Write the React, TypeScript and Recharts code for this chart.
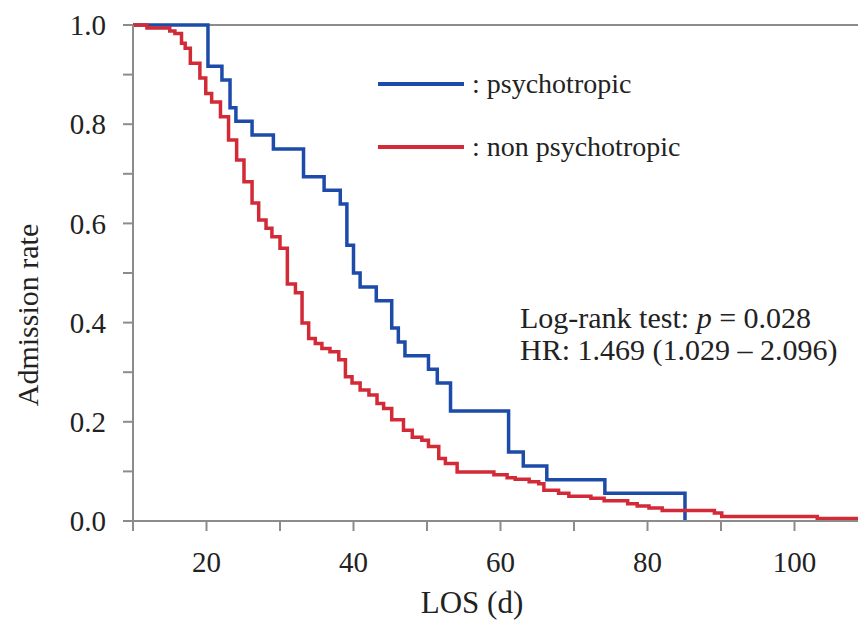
import { LineChart, Line, XAxis, YAxis, ReferenceLine, Label } from 'recharts'

// Kaplan-Meier style curves (day, admission rate)
const psychoDays = [10, 20.2, 22.1, 23.2, 24.0, 26.2, 29.1, 33.2, 36.0, 38.2, 39.1, 40.0, 40.9, 43.1, 45.2, 46.1, 47.0, 50.2, 51.4, 53.2, 61.1, 63.1, 66.3, 74.2, 85.1]
const psychoRate = [1.0, 0.917, 0.889, 0.833, 0.806, 0.778, 0.75, 0.694, 0.667, 0.639, 0.556, 0.5, 0.472, 0.444, 0.389, 0.361, 0.333, 0.306, 0.278, 0.222, 0.139, 0.111, 0.083, 0.056, 0.0]

const nonPsychoDays = [10, 11.9, 15.0, 15.7, 16.6, 17.1, 17.8, 19.1, 19.9, 20.7, 21.9, 23.0, 24.1, 25.1, 26.2, 27.1, 28.1, 28.9, 30.0, 31.0, 32.1, 33.0, 33.9, 34.8, 35.7, 36.8, 38.0, 38.9, 39.8, 40.9, 42.1, 43.2, 44.1, 45.2, 46.8, 48.0, 49.3, 50.2, 51.6, 52.5, 54.1, 59.1, 60.9, 62.0, 63.9, 65.2, 65.9, 67.9, 69.3, 72.3, 74.1, 77.3, 78.6, 80.2, 82.0, 89.1, 90.1, 103.1, 110]
const nonPsychoRate = [1.0, 0.994, 0.988, 0.983, 0.963, 0.953, 0.923, 0.893, 0.862, 0.845, 0.815, 0.768, 0.728, 0.684, 0.641, 0.607, 0.59, 0.573, 0.55, 0.478, 0.46, 0.399, 0.368, 0.358, 0.348, 0.341, 0.325, 0.291, 0.278, 0.264, 0.254, 0.237, 0.227, 0.204, 0.183, 0.169, 0.163, 0.15, 0.126, 0.116, 0.099, 0.093, 0.087, 0.084, 0.079, 0.075, 0.062, 0.056, 0.05, 0.046, 0.041, 0.035, 0.03, 0.026, 0.021, 0.016, 0.009, 0.005, 0.005]

const xTicks = [10, 20, 30, 40, 50, 60, 70, 80, 90, 100, 110]
const yTicks = [0, 0.1, 0.2, 0.3, 0.4, 0.5, 0.6, 0.7, 0.8, 0.9, 1.0]

const BLUE = '#1d4ba9'
const RED = '#d22a37'
const AXIS = '#8c8c8c'
const SERIF = "'Liberation Serif', 'Times New Roman', serif"

const psychoData = psychoDays.map((d, i) => ({ day: d, rate: psychoRate[i] }))
const nonPsychoData = nonPsychoDays.map((d, i) => ({ day: d, rate: nonPsychoRate[i] }))

const legendItems = [
  { name: 'psychotropic', color: BLUE },
  { name: 'non psychotropic', color: RED },
]

export default function App() {
  return (
    <div style={{ position: 'absolute', left: 0, top: 0, width: 858, height: 623, overflow: 'hidden', background: '#fff' }}>
      <LineChart width={868} height={623} margin={{ top: 25, right: 0, left: 0, bottom: 0 }}>
        <XAxis
          type="number"
          dataKey="day"
          domain={[10, 110]}
          ticks={xTicks}
          interval={0}
          height={102}
          stroke={AXIS}
          strokeWidth={2}
          tickSize={10}
          tickMargin={20}
          tick={{ fill: '#222', fontSize: 29, fontFamily: SERIF }}
          tickFormatter={(v: number) => (v % 20 === 0 ? String(v) : '')}
        >
          <Label
            content={({ viewBox }: any) => (
              <text x={472} y={viewBox.y + 92} textAnchor="middle" fill="#222" fontSize={31} fontFamily={SERIF}>
                LOS (d)
              </text>
            )}
          />
        </XAxis>
        <YAxis
          type="number"
          domain={[0, 1]}
          ticks={yTicks}
          interval={0}
          width={133}
          stroke={AXIS}
          strokeWidth={2}
          tickSize={10}
          tickMargin={17}
          tick={{ fill: '#222', fontSize: 29, fontFamily: SERIF }}
          tickFormatter={(v: number) => (Math.round(v * 10) % 2 === 0 ? v.toFixed(1) : '')}
        >
          <Label
            content={({ viewBox }: any) => {
              const cx = 38
              const cy = viewBox.y + viewBox.height / 2 + 42
              return (
                <text x={cx} y={cy} transform={`rotate(-90 ${cx} ${cy})`} textAnchor="middle" fill="#222" fontSize={30} fontFamily={SERIF}>
                  Admission rate
                </text>
              )
            }}
          />
        </YAxis>
        <ReferenceLine y={1} stroke={AXIS} strokeWidth={2} />
        <Line
          data={psychoData}
          dataKey="rate"
          name="psychotropic"
          type="stepAfter"
          stroke={BLUE}
          strokeWidth={3.5}
          dot={false}
          isAnimationActive={false}
        />
        <Line
          data={nonPsychoData}
          dataKey="rate"
          name="non psychotropic"
          type="stepAfter"
          stroke={RED}
          strokeWidth={3.5}
          dot={false}
          isAnimationActive={false}
        />
      </LineChart>
      <div style={{ position: 'absolute', left: 378, top: 52, fontFamily: SERIF, fontSize: 28, color: '#222', whiteSpace: 'nowrap' }}>
        {legendItems.map((it) => (
          <div key={it.name} style={{ display: 'flex', alignItems: 'center', height: 63 }}>
            <svg width={86} height={6} style={{ marginRight: 8 }}>
              <line x1={0} y1={3} x2={86} y2={3} stroke={it.color} strokeWidth={4} />
            </svg>
            <span>: {it.name}</span>
          </div>
        ))}
      </div>
      <div style={{ position: 'absolute', left: 520, top: 302, fontFamily: SERIF, fontSize: 30, lineHeight: '32px', color: '#222', whiteSpace: 'nowrap' }}>
        <div>Log-rank test: <i>p</i> = 0.028</div>
        <div>HR: 1.469 (1.029 – 2.096)</div>
      </div>
    </div>
  )
}
